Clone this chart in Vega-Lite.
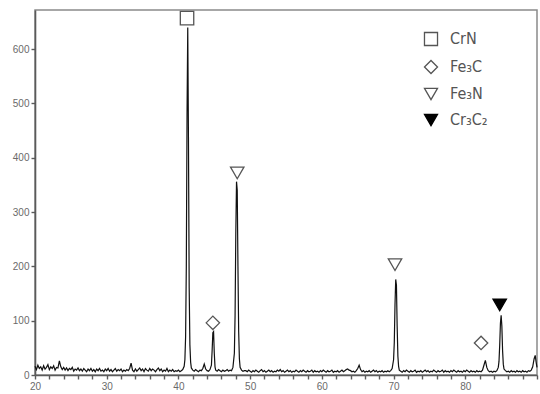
{
  "$schema": "https://vega.github.io/schema/vega-lite/v6.json",
  "width": 502,
  "height": 365,
  "autosize": {"type": "none"},
  "padding": {"left": 35, "top": 10, "right": 3, "bottom": 19},
  "background": "white",
  "config": {
    "view": {"stroke": "#8a8a8a", "strokeWidth": 1.5},
    "axis": {"grid": false, "domainColor": "#5a5a5a", "domainWidth": 1.6, "tickColor": "#5a5a5a", "tickWidth": 1.4, "tickSize": 4, "labelColor": "#6a6a6a", "labelFont": "Liberation Sans", "labelFontSize": 10, "title": null, "labelOverlap": false}
  },
  "datasets": {
    "xrd": [
      {"x":20.0,"y":16},{"x":20.2,"y":10},{"x":20.4,"y":18},{"x":20.6,"y":12},{"x":20.8,"y":15},{"x":21.0,"y":9},{"x":21.2,"y":17},{"x":21.4,"y":11},{"x":21.6,"y":14},{"x":21.8,"y":19},
      {"x":22.0,"y":10},{"x":22.2,"y":15},{"x":22.4,"y":12},{"x":22.6,"y":17},{"x":22.8,"y":9},{"x":23.0,"y":14},{"x":23.2,"y":13},{"x":23.4,"y":26},{"x":23.6,"y":15},{"x":23.8,"y":10},
      {"x":24.0,"y":14},{"x":24.2,"y":9},{"x":24.4,"y":13},{"x":24.6,"y":8},{"x":24.8,"y":12},{"x":25.0,"y":10},{"x":25.2,"y":14},{"x":25.4,"y":7},{"x":25.6,"y":11},{"x":25.8,"y":9},
      {"x":26.0,"y":13},{"x":26.2,"y":8},{"x":26.4,"y":11},{"x":26.6,"y":7},{"x":26.8,"y":12},{"x":27.0,"y":9},{"x":27.2,"y":6},{"x":27.4,"y":11},{"x":27.6,"y":8},{"x":27.8,"y":12},
      {"x":28.0,"y":7},{"x":28.2,"y":10},{"x":28.4,"y":6},{"x":28.6,"y":11},{"x":28.8,"y":8},{"x":29.0,"y":12},{"x":29.2,"y":7},{"x":29.4,"y":9},{"x":29.6,"y":6},{"x":29.8,"y":11},
      {"x":30.0,"y":8},{"x":30.2,"y":12},{"x":30.4,"y":7},{"x":30.6,"y":10},{"x":30.8,"y":6},{"x":31.0,"y":9},{"x":31.2,"y":12},{"x":31.4,"y":7},{"x":31.6,"y":10},{"x":31.8,"y":8},
      {"x":32.0,"y":11},{"x":32.2,"y":6},{"x":32.4,"y":9},{"x":32.6,"y":7},{"x":32.8,"y":10},{"x":33.0,"y":8},{"x":33.2,"y":12},{"x":33.4,"y":22},{"x":33.6,"y":9},{"x":33.8,"y":6},
      {"x":34.0,"y":11},{"x":34.2,"y":7},{"x":34.4,"y":10},{"x":34.6,"y":13},{"x":34.8,"y":8},{"x":35.0,"y":11},{"x":35.2,"y":6},{"x":35.4,"y":12},{"x":35.6,"y":9},{"x":35.8,"y":7},
      {"x":36.0,"y":12},{"x":36.2,"y":8},{"x":36.4,"y":11},{"x":36.6,"y":9},{"x":36.8,"y":6},{"x":37.0,"y":10},{"x":37.2,"y":13},{"x":37.4,"y":8},{"x":37.6,"y":11},{"x":37.8,"y":6},
      {"x":38.0,"y":9},{"x":38.2,"y":7},{"x":38.4,"y":12},{"x":38.6,"y":6},{"x":38.8,"y":9},{"x":39.0,"y":7},{"x":39.2,"y":10},{"x":39.4,"y":6},{"x":39.6,"y":8},{"x":39.8,"y":7},
      {"x":40.0,"y":9},{"x":40.2,"y":6},{"x":40.4,"y":8},{"x":40.6,"y":10},{"x":40.8,"y":16},{"x":40.9,"y":28},{"x":41.0,"y":70},{"x":41.1,"y":200},{"x":41.2,"y":480},{"x":41.3,"y":640},
      {"x":41.4,"y":430},{"x":41.5,"y":160},{"x":41.6,"y":55},{"x":41.7,"y":24},{"x":41.8,"y":13},{"x":42.0,"y":9},{"x":42.2,"y":7},{"x":42.4,"y":10},{"x":42.6,"y":8},{"x":42.8,"y":6},
      {"x":43.0,"y":9},{"x":43.2,"y":8},{"x":43.4,"y":12},{"x":43.6,"y":20},{"x":43.8,"y":11},{"x":44.0,"y":8},{"x":44.2,"y":7},{"x":44.4,"y":10},{"x":44.6,"y":18},{"x":44.7,"y":45},
      {"x":44.8,"y":78},{"x":44.9,"y":80},{"x":45.0,"y":40},{"x":45.1,"y":15},{"x":45.2,"y":9},{"x":45.4,"y":7},{"x":45.6,"y":10},{"x":45.8,"y":8},{"x":46.0,"y":6},{"x":46.2,"y":9},
      {"x":46.4,"y":7},{"x":46.6,"y":8},{"x":46.8,"y":10},{"x":47.0,"y":7},{"x":47.2,"y":9},{"x":47.4,"y":8},{"x":47.6,"y":14},{"x":47.8,"y":40},{"x":47.9,"y":110},{"x":48.0,"y":260},
      {"x":48.1,"y":356},{"x":48.2,"y":340},{"x":48.3,"y":200},{"x":48.4,"y":80},{"x":48.5,"y":30},{"x":48.6,"y":14},{"x":48.8,"y":9},{"x":49.0,"y":7},{"x":49.2,"y":8},{"x":49.4,"y":8},
      {"x":49.6,"y":6},{"x":49.8,"y":9},{"x":50.0,"y":7},{"x":50.2,"y":5},{"x":50.4,"y":8},{"x":50.6,"y":6},{"x":50.8,"y":9},{"x":51.0,"y":7},{"x":51.2,"y":5},{"x":51.4,"y":8},
      {"x":51.6,"y":10},{"x":51.8,"y":6},{"x":52.0,"y":8},{"x":52.2,"y":5},{"x":52.4,"y":7},{"x":52.6,"y":9},{"x":52.8,"y":6},{"x":53.0,"y":8},{"x":53.2,"y":5},{"x":53.4,"y":7},
      {"x":53.6,"y":6},{"x":53.8,"y":9},{"x":54.0,"y":7},{"x":54.2,"y":10},{"x":54.4,"y":6},{"x":54.6,"y":8},{"x":54.8,"y":5},{"x":55.0,"y":7},{"x":55.2,"y":9},{"x":55.4,"y":6},
      {"x":55.6,"y":8},{"x":55.8,"y":5},{"x":56.0,"y":7},{"x":56.2,"y":6},{"x":56.4,"y":9},{"x":56.6,"y":7},{"x":56.8,"y":5},{"x":57.0,"y":8},{"x":57.2,"y":6},{"x":57.4,"y":9},
      {"x":57.6,"y":7},{"x":57.8,"y":5},{"x":58.0,"y":8},{"x":58.2,"y":6},{"x":58.4,"y":7},{"x":58.6,"y":9},{"x":58.8,"y":5},{"x":59.0,"y":8},{"x":59.2,"y":6},{"x":59.4,"y":7},
      {"x":59.6,"y":5},{"x":59.8,"y":8},{"x":60.0,"y":6},{"x":60.2,"y":9},{"x":60.4,"y":7},{"x":60.6,"y":5},{"x":60.8,"y":8},{"x":61.0,"y":6},{"x":61.2,"y":7},{"x":61.4,"y":9},
      {"x":61.6,"y":5},{"x":61.8,"y":7},{"x":62.0,"y":6},{"x":62.2,"y":8},{"x":62.4,"y":5},{"x":62.6,"y":7},{"x":62.8,"y":9},{"x":63.0,"y":6},{"x":63.2,"y":8},{"x":63.4,"y":10},
      {"x":63.6,"y":11},{"x":63.8,"y":9},{"x":64.0,"y":8},{"x":64.2,"y":6},{"x":64.4,"y":7},{"x":64.6,"y":5},{"x":64.8,"y":8},{"x":65.0,"y":12},{"x":65.2,"y":18},{"x":65.4,"y":10},
      {"x":65.6,"y":6},{"x":65.8,"y":8},{"x":66.0,"y":5},{"x":66.2,"y":7},{"x":66.4,"y":6},{"x":66.6,"y":8},{"x":66.8,"y":5},{"x":67.0,"y":7},{"x":67.2,"y":9},{"x":67.4,"y":6},
      {"x":67.6,"y":8},{"x":67.8,"y":5},{"x":68.0,"y":7},{"x":68.2,"y":6},{"x":68.4,"y":8},{"x":68.6,"y":5},{"x":68.8,"y":7},{"x":69.0,"y":6},{"x":69.2,"y":8},{"x":69.4,"y":6},
      {"x":69.6,"y":8},{"x":69.8,"y":12},{"x":70.0,"y":28},{"x":70.1,"y":60},{"x":70.2,"y":130},{"x":70.3,"y":176},{"x":70.4,"y":165},{"x":70.5,"y":90},{"x":70.6,"y":35},{"x":70.7,"y":16},
      {"x":70.8,"y":9},{"x":71.0,"y":7},{"x":71.2,"y":5},{"x":71.4,"y":8},{"x":71.6,"y":6},{"x":71.8,"y":9},{"x":72.0,"y":7},{"x":72.2,"y":5},{"x":72.4,"y":8},{"x":72.6,"y":6},
      {"x":72.8,"y":7},{"x":73.0,"y":9},{"x":73.2,"y":5},{"x":73.4,"y":7},{"x":73.6,"y":6},{"x":73.8,"y":8},{"x":74.0,"y":5},{"x":74.2,"y":7},{"x":74.4,"y":9},{"x":74.6,"y":6},
      {"x":74.8,"y":8},{"x":75.0,"y":5},{"x":75.2,"y":7},{"x":75.4,"y":6},{"x":75.6,"y":9},{"x":75.8,"y":7},{"x":76.0,"y":5},{"x":76.2,"y":8},{"x":76.4,"y":6},{"x":76.6,"y":7},
      {"x":76.8,"y":9},{"x":77.0,"y":5},{"x":77.2,"y":8},{"x":77.4,"y":6},{"x":77.6,"y":7},{"x":77.8,"y":5},{"x":78.0,"y":8},{"x":78.2,"y":6},{"x":78.4,"y":9},{"x":78.6,"y":7},
      {"x":78.8,"y":5},{"x":79.0,"y":8},{"x":79.2,"y":6},{"x":79.4,"y":7},{"x":79.6,"y":5},{"x":79.8,"y":8},{"x":80.0,"y":6},{"x":80.2,"y":9},{"x":80.4,"y":7},{"x":80.6,"y":5},
      {"x":80.8,"y":8},{"x":81.0,"y":6},{"x":81.2,"y":7},{"x":81.4,"y":5},{"x":81.6,"y":8},{"x":81.8,"y":6},{"x":82.0,"y":7},{"x":82.2,"y":6},{"x":82.4,"y":9},{"x":82.6,"y":18},
      {"x":82.8,"y":27},{"x":83.0,"y":14},{"x":83.2,"y":8},{"x":83.4,"y":6},{"x":83.6,"y":7},{"x":83.8,"y":5},{"x":84.0,"y":7},{"x":84.2,"y":6},{"x":84.4,"y":8},{"x":84.6,"y":14},
      {"x":84.7,"y":25},{"x":84.8,"y":55},{"x":84.9,"y":95},{"x":85.0,"y":110},{"x":85.1,"y":90},{"x":85.2,"y":45},{"x":85.3,"y":20},{"x":85.4,"y":11},{"x":85.6,"y":8},{"x":85.8,"y":6},
      {"x":86.0,"y":7},{"x":86.2,"y":5},{"x":86.4,"y":8},{"x":86.6,"y":6},{"x":86.8,"y":7},{"x":87.0,"y":5},{"x":87.2,"y":8},{"x":87.4,"y":6},{"x":87.6,"y":7},{"x":87.8,"y":5},
      {"x":88.0,"y":8},{"x":88.2,"y":6},{"x":88.4,"y":7},{"x":88.6,"y":5},{"x":88.8,"y":8},{"x":89.0,"y":7},{"x":89.2,"y":9},{"x":89.4,"y":15},{"x":89.6,"y":30},{"x":89.75,"y":36},
      {"x":89.9,"y":22},{"x":90.0,"y":14}
    ],
    "markers": [
      {"x": 41.2, "y": 657, "phase": "CrN"},
      {"x": 44.8, "y": 96, "phase": "Fe₃C"},
      {"x": 48.2, "y": 372, "phase": "Fe₃N"},
      {"x": 70.2, "y": 203, "phase": "Fe₃N"},
      {"x": 82.2, "y": 59, "phase": "Fe₃C"},
      {"x": 84.8, "y": 129, "phase": "Cr₃C₂"}
    ]
  },
  "encoding": {
    "x": {"field": "x", "type": "quantitative", "scale": {"domain": [20, 90], "nice": false, "zero": false},
          "axis": {"values": [20,22,24,26,28,30,32,34,36,38,40,42,44,46,48,50,52,54,56,58,60,62,64,66,68,70,72,74,76,78,80,82,84,86,88,90],
                   "labelExpr": "(datum.value == 20 || datum.value == 30 || datum.value == 40 || datum.value == 50 || datum.value == 60 || datum.value == 70 || datum.value == 80) ? datum.label : ''",
                   "labelPadding": 2, "labelFlush": false, "labelOverlap": false, "labelSeparation": 0, "labelBound": false}},
    "y": {"field": "y", "type": "quantitative", "scale": {"domain": [0, 672], "nice": false},
          "axis": {"values": [0,100,200,300,400,500,600], "labelPadding": 2}}
  },
  "layer": [
    {
      "data": {"name": "xrd"},
      "mark": {"type": "line", "color": "#111111", "strokeWidth": 1.2, "interpolate": "linear"}
    },
    {
      "data": {"name": "markers"},
      "mark": {"type": "point", "filled": true, "strokeWidth": 1.3, "size": 180, "opacity": 1},
      "encoding": {
        "shape": {"field": "phase", "type": "nominal",
                  "scale": {"domain": ["CrN", "Fe₃C", "Fe₃N", "Cr₃C₂"], "range": ["square", "diamond", "triangle-down", "triangle-down"]},
                  "legend": {"orient": "none", "legendX": 388, "legendY": 21, "title": null,
                             "labelFont": "DejaVu Sans Condensed, Liberation Sans, sans-serif", "labelFontSize": 16, "labelColor": "#555555",
                             "symbolSize": 170, "symbolStrokeWidth": 1.3, "rowPadding": 8, "labelOffset": 11}},
        "fill": {"field": "phase", "type": "nominal",
                 "scale": {"domain": ["CrN", "Fe₃C", "Fe₃N", "Cr₃C₂"], "range": ["#ffffff", "#ffffff", "#ffffff", "#000000"]}},
        "stroke": {"field": "phase", "type": "nominal",
                   "scale": {"domain": ["CrN", "Fe₃C", "Fe₃N", "Cr₃C₂"], "range": ["#555555", "#555555", "#555555", "#000000"]}}
      }
    }
  ]
}
